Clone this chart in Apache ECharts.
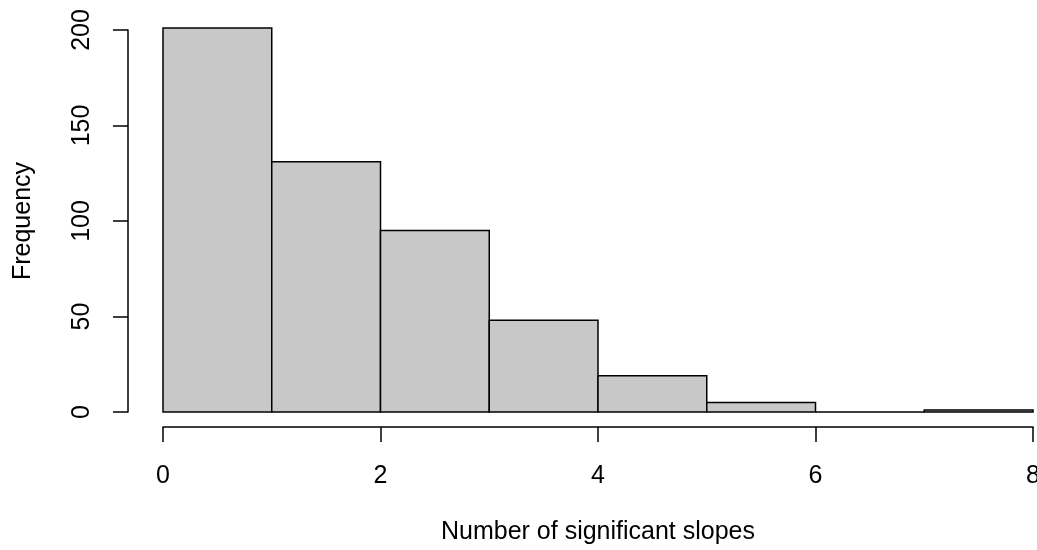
<!DOCTYPE html>
<html><head><meta charset="utf-8">
<script src="https://cdn.jsdelivr.net/npm/echarts@6/dist/echarts.min.js"></script>
<style>html,body{margin:0;padding:0;background:#fff}#c{width:1037px;height:550px}</style>
</head><body><div id="c"></div>
<script>
const binStarts = [0, 1, 2, 3, 4, 5, 6, 7];
const binWidth = 1;
const counts = [201, 131, 95, 48, 19, 5, 0, 1];
const xTicks = [0, 2, 4, 6, 8];
const yTicks = [0, 50, 100, 150, 200];
const xTitle = 'Number of significant slopes';
const yTitle = 'Frequency';

const font = 'Liberation Sans, Arial, Helvetica, sans-serif';
const chart = echarts.init(document.getElementById('c'), null, {renderer: 'canvas'});
chart.setOption({
  animation: false,
  backgroundColor: '#fff',
  grid: {left: 163, right: 4, top: 30, bottom: 138, containLabel: false, outerBoundsMode: 'none'},
  xAxis: {
    type: 'value', min: 0, max: 8, interval: 2,
    offset: 15,
    axisLine: {show: true, onZero: false, lineStyle: {color: '#000', width: 1.5}},
    axisTick: {show: true, length: 15, lineStyle: {color: '#000', width: 1.5}},
    axisLabel: {color: '#000', fontSize: 25, fontFamily: font, margin: 37,
      formatter: v => xTicks.includes(v) ? String(v) : ''},
    splitLine: {show: false},
    name: xTitle, nameLocation: 'middle', nameGap: 93,
    nameTextStyle: {color: '#000', fontSize: 25, fontFamily: font}
  },
  yAxis: {
    type: 'value', min: 0, max: 200, interval: 50,
    offset: 35,
    axisLine: {show: true, onZero: false, lineStyle: {color: '#000', width: 1.5}},
    axisTick: {show: true, length: 15, lineStyle: {color: '#000', width: 1.5}},
    axisLabel: {color: '#000', fontSize: 25, fontFamily: font, rotate: 90, margin: 46,
      verticalAlign: 'middle', align: 'center',
      formatter: v => yTicks.includes(v) ? String(v) : ''},
    splitLine: {show: false},
    name: yTitle, nameLocation: 'middle', nameGap: 92, nameRotate: 90,
    nameTextStyle: {color: '#000', fontSize: 25, fontFamily: font}
  },
  series: [{
    type: 'custom',
    data: binStarts.map((s, i) => [s, s + binWidth, counts[i]]),
    encode: {x: [0, 1], y: 2},
    renderItem: function (params, api) {
      const p0 = api.coord([api.value(0), api.value(2)]);
      const p1 = api.coord([api.value(1), 0]);
      return {
        type: 'rect',
        shape: {x: p0[0], y: p0[1], width: p1[0] - p0[0], height: p1[1] - p0[1]},
        style: {fill: '#c8c8c8', stroke: '#000', lineWidth: 1.5}
      };
    }
  }]
});
</script></body></html>
